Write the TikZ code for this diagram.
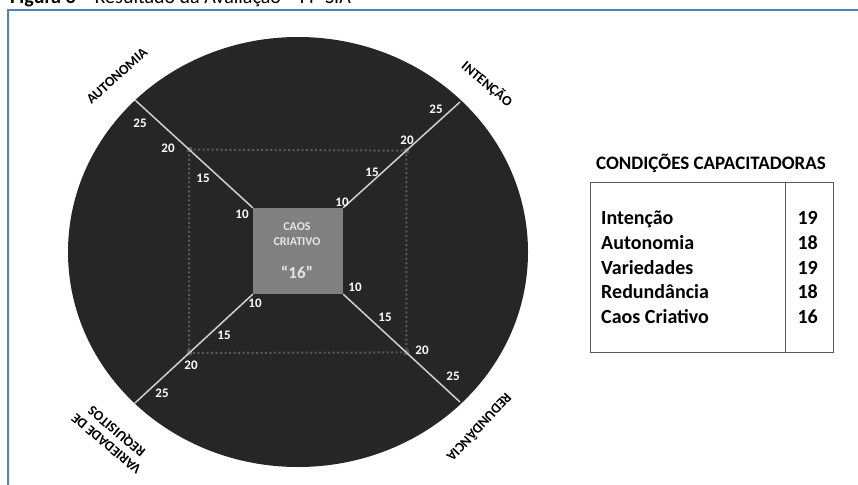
\documentclass[tikz,border=0pt]{standalone}
\usepackage{fontspec}
\setmainfont{Carlito}
\usetikzlibrary{calc}
\definecolor{disc}{HTML}{262626}
\definecolor{boxgray}{HTML}{808080}
\definecolor{spokecol}{HTML}{D0D0D0}
\definecolor{dotgray}{HTML}{5A5A5A}
\definecolor{framecol}{HTML}{4F81BD}
\definecolor{tablegray}{HTML}{595959}
\definecolor{boxtext}{HTML}{E6E6E6}
\begin{document}
\begin{tikzpicture}[x=1pt,y=-1pt,
  axislabel/.style={font=\bfseries\fontsize{14}{16}\selectfont, text=black, inner sep=0pt, align=center},
  tick/.style={font=\bfseries\fontsize{13}{13}\selectfont, text=white, inner sep=0pt},
  spoke/.style={draw=spokecol, line width=1.5pt},
  gridline/.style={draw=dotgray, line width=2pt, dash pattern=on 2pt off 2.5pt},
  cornermark/.style={fill=dotgray, minimum size=5pt, inner sep=0pt},
  rowtext/.style={font=\bfseries\fontsize{20}{20}\selectfont, anchor=base west, inner sep=0pt},
  rownum/.style={font=\bfseries\fontsize{20}{20}\selectfont, anchor=base east, inner sep=0pt},
  boxlabel/.style={font=\bfseries\fontsize{12}{12}\selectfont, text=boxtext, inner sep=0pt}
]
\useasboundingbox (0,0) rectangle (858,484);
\clip (0,0) rectangle (858,484);

% caption (cut off at the top)
\node[anchor=base west, inner sep=0pt, font=\fontsize{20}{20}\selectfont] (caption) at (10,4) {\textbf{Figura 3} – Resultado da Avaliação – FP-SIA};
% frame
\draw[framecol, line width=2pt] (8,486) -- (8,10) -- (860,10);

% disc
\fill[disc] (298,252) ellipse [x radius=230pt, y radius=215pt];

% centre box
\node[fill=boxgray, minimum width=90pt, minimum height=86pt, inner sep=0pt] (box) at (298,251) {};

% spoke ends on the disc rim
\coordinate (eNW) at (135,100);
\coordinate (eNE) at (460,102);
\coordinate (eSW) at (135,403);
\coordinate (eSE) at (460,402);

% level-20 points
\coordinate (gNW) at ($(box.north west)!0.54!(eNW)$);
\coordinate (gNE) at ($(box.north east)!0.54!(eNE)$);
\coordinate (gSE) at ($(box.south east)!0.54!(eSE)$);
\coordinate (gSW) at ($(box.south west)!0.54!(eSW)$);

% dotted square
\draw[gridline] (gNW) -- (gNE) -- (gSE) -- (gSW) -- cycle;
\foreach \c in {gNW,gNE,gSE,gSW}{\node[cornermark] (m\c) at (\c) {};}

% spokes
\draw[spoke] (box.north west) -- (eNW);
\draw[spoke] (box.north east) -- (eNE);
\draw[spoke] (box.south west) -- (eSW);
\draw[spoke] (box.south east) -- (eSE);
\node[fill=boxgray, minimum width=90pt, minimum height=86pt, inner sep=0pt] (boxtop) at (box) {};

% box text
\node[boxlabel] (caos) at (297,227) {CAOS};
\node[boxlabel] (criativo) at (297,242) {CRIATIVO};
\node[font=\bfseries\fontsize{17}{17}\selectfont, text=boxtext, inner sep=0pt] (val) at (297,272) {“16”};

% ticks NW
\node[tick] (nw25) at (140,123) {25};
\node[tick] (nw20) at (168,148) {20};
\node[tick] (nw15) at (203,178) {15};
\node[tick] (nw10) at (242,214) {10};
% ticks NE
\node[tick] (ne25) at (436,109) {25};
\node[tick] (ne20) at (407,140) {20};
\node[tick] (ne15) at (372,172) {15};
\node[tick] (ne10) at (342,202) {10};
% ticks SW
\node[tick] (sw10) at (255,303) {10};
\node[tick] (sw15) at (224,335) {15};
\node[tick] (sw20) at (191,365) {20};
\node[tick] (sw25) at (162,393) {25};
% ticks SE
\node[tick] (se10) at (355,287) {10};
\node[tick] (se15) at (385,317) {15};
\node[tick] (se20) at (422,350) {20};
\node[tick] (se25) at (453,376) {25};

% axis labels
\node[axislabel, rotate=42] (lAut) at (117,76) {AUTONOMIA};
\node[axislabel, rotate=-40] (lInt) at (487,84) {INTENÇÃO};
\node[axislabel, rotate=140] (lVar) at (112,437) {VARIEDADE DE\\REQUISITOS};
\node[axislabel, rotate=-133] (lRed) at (480,428) {REDUNDÂNCIA};

% table
\node[font=\bfseries\fontsize{19}{19}\selectfont, inner sep=0pt] (ttitle) at (711,163) {CONDIÇÕES CAPACITADORAS};
\draw[tablegray, line width=1pt] (590,182) rectangle (833,352);
\draw[tablegray, line width=1pt] (785,182) -- (785,352);
\node[rowtext] (r1) at (601,224.5) {Intenção};
\node[rowtext] (r2) at (601,249.3) {Autonomia};
\node[rowtext] (r3) at (601,274.1) {Variedades};
\node[rowtext] (r4) at (601,298.9) {Redundância};
\node[rowtext] (r5) at (601,323.7) {Caos Criativo};
\node[rownum] (v1) at (818,224.5) {19};
\node[rownum] (v2) at (818,249.3) {18};
\node[rownum] (v3) at (818,274.1) {19};
\node[rownum] (v4) at (818,298.9) {18};
\node[rownum] (v5) at (818,323.7) {16};
\end{tikzpicture}
\end{document}
